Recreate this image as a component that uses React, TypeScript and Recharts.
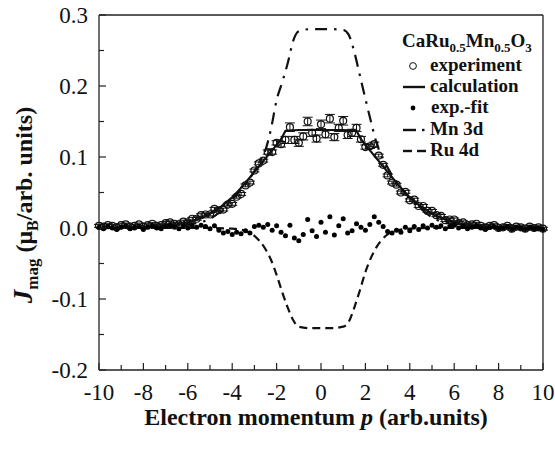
import React from 'react'
import { ComposedChart, Line, Scatter, XAxis, YAxis, ReferenceLine, ErrorBar } from 'recharts'

const FONT = 'Liberation Serif, Times New Roman, DejaVu Serif, serif'

// measured points, momentum grid step 0.2 from -10 to 10
const EXP_P = Array.from({ length: 101 }, (_, i) => Math.round((-10 + i * 0.2) * 10) / 10)

const EXP_V = [
  0.003, 0.002, 0.004, 0.003, 0.001, 0.004, 0.005, 0.002, 0.003, 0.005,
  0.002, 0.004, 0.006, 0.003, 0.004, 0.007, 0.008, 0.006, 0.005, 0.009,
  0.008, 0.013, 0.013, 0.018, 0.019, 0.019, 0.027, 0.025, 0.026, 0.033,
  0.034, 0.044, 0.048, 0.06, 0.064, 0.081, 0.091, 0.095, 0.107, 0.107,
  0.12, 0.118, 0.124, 0.142, 0.124, 0.12, 0.129, 0.15, 0.134, 0.126,
  0.146, 0.132, 0.154, 0.128, 0.141, 0.151, 0.131, 0.134, 0.141, 0.125,
  0.114, 0.115, 0.118, 0.102, 0.089, 0.074, 0.064, 0.061, 0.05, 0.051,
  0.039, 0.04, 0.031, 0.031, 0.024, 0.024, 0.018, 0.017, 0.011, 0.012,
  0.012, 0.007, 0.008, 0.004, 0.005, 0.006, 0.003, 0.001, 0.003, 0.004,
  0.0, 0.001, 0.003, -0.001, 0.002, 0.001, -0.001, 0.002, 0.0, 0.001,
  -0.001,
]

const EXP_ERR = [
  0.002, 0.002, 0.002, 0.002, 0.002, 0.002, 0.002, 0.002, 0.002, 0.002,
  0.002, 0.002, 0.002, 0.002, 0.002, 0.002, 0.002, 0.002, 0.002, 0.002,
  0.002, 0.002, 0.002, 0.002, 0.002, 0.002, 0.002, 0.002, 0.002, 0.002,
  0.002, 0.002, 0.002, 0.002, 0.002, 0.002, 0.002, 0.002, 0.003, 0.003,
  0.003, 0.004, 0.005, 0.006, 0.005, 0.005, 0.005, 0.006, 0.005, 0.005,
  0.006, 0.005, 0.006, 0.005, 0.005, 0.006, 0.005, 0.005, 0.005, 0.004,
  0.003, 0.003, 0.003, 0.002, 0.002, 0.002, 0.002, 0.002, 0.002, 0.002,
  0.002, 0.002, 0.002, 0.002, 0.002, 0.002, 0.002, 0.002, 0.002, 0.002,
  0.002, 0.002, 0.002, 0.002, 0.002, 0.002, 0.002, 0.002, 0.002, 0.002,
  0.002, 0.002, 0.002, 0.002, 0.002, 0.002, 0.002, 0.002, 0.002, 0.002,
  0.002,
]

// experiment minus fit
const FIT_V = [
  0.001, -0.001, 0.002, 0.0, -0.002, 0.001, 0.003, -0.001, 0.0, 0.002,
  -0.002, 0.001, 0.003, 0.0, -0.001, 0.002, 0.004, 0.001, -0.001, 0.002,
  0.0, 0.003, 0.001, 0.004, 0.002, -0.001, 0.003, -0.003, -0.007, -0.005,
  -0.009, -0.006, -0.008, -0.004, -0.007, 0.002, 0.004, 0.001, 0.005, -0.003,
  0.003, -0.006, -0.011, 0.004, -0.014, -0.018, -0.009, 0.012, -0.004, -0.012,
  0.008, -0.006, 0.016, -0.01, 0.003, 0.013, -0.007, -0.004, 0.006, 0.001,
  -0.003, 0.005, 0.016, 0.008, 0.002, -0.005, -0.007, -0.003, -0.006, 0.001,
  -0.004, 0.002, -0.002, 0.003, 0.0, 0.004, 0.001, 0.003, -0.001, 0.002,
  0.004, 0.0, 0.002, -0.001, 0.001, 0.003, 0.0, -0.002, 0.001, 0.002,
  -0.001, 0.0, 0.002, -0.002, 0.001, 0.0, -0.002, 0.001, -0.001, 0.0,
  -0.002,
]

const CALC_P = [-10, -8, -7, -6.5, -6, -5.5, -5, -4.5, -4, -3.5, -3, -2.5, -2, -1.8, -1.6, -1, 0, 1, 1.6, 1.8, 2, 2.5, 3, 3.5, 4, 4.5, 5, 5.5, 6, 6.5, 7, 8, 10]
const CALC_V = [0, 0.001, 0.003, 0.005, 0.008, 0.013, 0.02, 0.03, 0.043, 0.06, 0.079, 0.098, 0.117, 0.125, 0.137, 0.138, 0.138, 0.138, 0.137, 0.125, 0.117, 0.098, 0.079, 0.06, 0.043, 0.03, 0.02, 0.013, 0.008, 0.005, 0.003, 0.001, 0]

const MN_P = [-10, -8, -6, -5, -4.5, -4, -3.5, -3, -2.75, -2.5, -2.25, -2, -1.75, -1.5, -1.25, -1, -0.5, 0, 0.5, 1, 1.25, 1.5, 1.75, 2, 2.25, 2.5, 2.75, 3, 3.5, 4, 4.5, 5, 6, 8, 10]
const MN_V = [0, 0.001, 0.005, 0.013, 0.024, 0.04, 0.058, 0.08, 0.094, 0.11, 0.14, 0.18, 0.205, 0.232, 0.264, 0.277, 0.28, 0.28, 0.28, 0.279, 0.272, 0.248, 0.215, 0.182, 0.15, 0.12, 0.1, 0.085, 0.06, 0.042, 0.027, 0.015, 0.005, 0.001, 0]

const RU_P = [-10, -5, -4, -3.5, -3, -2.5, -2.25, -2, -1.75, -1.5, -1.25, -1, -0.5, 0, 0.5, 1, 1.25, 1.5, 1.75, 2, 2.25, 2.5, 3, 3.5, 4, 5, 10]
const RU_V = [0, 0, -0.001, -0.003, -0.011, -0.03, -0.045, -0.066, -0.09, -0.112, -0.13, -0.139, -0.141, -0.141, -0.141, -0.139, -0.132, -0.112, -0.088, -0.062, -0.042, -0.027, -0.009, -0.003, -0.001, 0, 0]

const X_TICKS = [-10, -9, -8, -7, -6, -5, -4, -3, -2, -1, 0, 1, 2, 3, 4, 5, 6, 7, 8, 9, 10]
const Y_TICKS = [-0.2, -0.15, -0.1, -0.05, 0, 0.05, 0.1, 0.15, 0.2, 0.25, 0.3]

const expData = EXP_P.map((p, i) => ({ p, v: EXP_V[i], err: EXP_ERR[i] }))
const fitData = EXP_P.map((p, i) => ({ p, v: FIT_V[i] }))
const calcData = CALC_P.map((p, i) => ({ p, v: CALC_V[i] }))
const mnData = MN_P.map((p, i) => ({ p, v: MN_V[i] }))
const ruData = RU_P.map((p, i) => ({ p, v: RU_V[i] }))

const AXIS = '#222'
const serif = { fontFamily: FONT }

function XTick({ x, y, payload }: any) {
  const v = payload.value
  const major = v % 2 === 0
  return (
    <g>
      <line x1={x} x2={x} y1={y} y2={y - (major ? 7 : 5)} stroke={AXIS} strokeWidth={1.2} />
      {major && (
        <text x={x} y={y + 30} textAnchor="middle" fontSize={23} style={serif} fill="#111">
          {v}
        </text>
      )}
    </g>
  )
}

function YTick({ x, y, payload }: any) {
  const v = payload.value
  const major = Math.abs(v * 10 - Math.round(v * 10)) < 1e-6
  return (
    <g>
      <line x1={x} x2={x + (major ? 7 : 5)} y1={y} y2={y} stroke={AXIS} strokeWidth={1.2} />
      {major && (
        <text x={x - 11} y={y} dy="0.35em" textAnchor="end" fontSize={23} style={serif} fill="#111">
          {v.toFixed(1)}
        </text>
      )}
    </g>
  )
}

const openCircle = (props: any) => (
  <circle cx={props.cx} cy={props.cy} r={3.5} fill="none" stroke="#111" strokeWidth={1.2} />
)
const filledDot = (props: any) => <circle cx={props.cx} cy={props.cy} r={2.5} fill="#000" />

function Overlay() {
  const bold = { style: { fontFamily: FONT, fontWeight: 'bold' as const }, fill: '#111' }
  return (
    <svg width={555} height={449} style={{ position: 'absolute', left: 0, top: 0, pointerEvents: 'none' }}>
      {/* y axis title */}
      <text transform="translate(32,205) rotate(-90)" textAnchor="middle" fontSize={24} {...bold}>
        <tspan fontStyle="italic" fontSize={27}>J</tspan>
        <tspan fontSize={17} dy={6}>mag</tspan>
        <tspan dy={-6}>{'  (μ'}</tspan>
        <tspan fontSize={16} dy={6}>B</tspan>
        <tspan dy={-6}>/arb. units)</tspan>
      </text>
      {/* x axis title */}
      <text x={316} y={425} textAnchor="middle" fontSize={24} {...bold}>
        Electron momentum <tspan fontStyle="italic">p</tspan> (arb.units)
      </text>
      {/* legend */}
      <text x={402} y={47} fontSize={19} {...bold}>
        CaRu<tspan fontSize={13} dy={5}>0.5</tspan>
        <tspan dy={-5}>Mn</tspan>
        <tspan fontSize={13} dy={5}>0.5</tspan>
        <tspan dy={-5}>O</tspan>
        <tspan fontSize={13} dy={5}>3</tspan>
      </text>
      <circle cx={413} cy={66} r={3.4} fill="none" stroke="#111" strokeWidth={1} />
      <text x={430} y={71} fontSize={19} {...bold}>experiment</text>
      <line x1={403} x2={425} y1={87} y2={87} stroke="#111" strokeWidth={2.4} />
      <text x={430} y={92} fontSize={19} {...bold}>calculation</text>
      <circle cx={413} cy={108} r={2.4} fill="#000" />
      <text x={431} y={113} fontSize={19} {...bold}>exp.-fit</text>
      <line x1={403} x2={416} y1={130} y2={130} stroke="#111" strokeWidth={2.4} />
      <line x1={422} x2={424.5} y1={130} y2={130} stroke="#111" strokeWidth={2.4} />
      <text x={430} y={135} fontSize={19} {...bold}>Mn 3d</text>
      <line x1={403} x2={412} y1={151} y2={151} stroke="#111" strokeWidth={2.4} />
      <line x1={417} x2={426} y1={151} y2={151} stroke="#111" strokeWidth={2.4} />
      <text x={430} y={156} fontSize={19} {...bold}>Ru 4d</text>
    </svg>
  )
}

export default function App() {
  return (
    <div style={{ position: 'absolute', left: 0, top: 0, width: 555, height: 449, background: '#fff' }}>
      <ComposedChart width={555} height={449} margin={{ top: 15, right: 12, bottom: 0, left: 0 }}>
        <XAxis
          type="number"
          dataKey="p"
          domain={[-10, 10]}
          ticks={X_TICKS}
          interval={0}
          height={79}
          tickSize={0}
          tickMargin={0}
          tickLine={false}
          axisLine={{ stroke: AXIS, strokeWidth: 1.3 }}
          tick={(props: any) => <XTick {...props} />}
        />
        <YAxis
          type="number"
          domain={[-0.2, 0.3]}
          ticks={Y_TICKS}
          interval={0}
          width={99}
          tickSize={0}
          tickMargin={0}
          tickLine={false}
          axisLine={{ stroke: AXIS, strokeWidth: 1.3 }}
          tick={(props: any) => <YTick {...props} />}
        />
        <ReferenceLine y={0.3} stroke={AXIS} strokeWidth={1.3} />
        <ReferenceLine x={10} stroke={AXIS} strokeWidth={1.3} />
        <Line data={mnData} dataKey="v" type="monotone" stroke="#111" strokeWidth={2.2} strokeDasharray="12 7 2.5 7" dot={false} isAnimationActive={false} />
        <Line data={ruData} dataKey="v" type="monotone" stroke="#111" strokeWidth={2.2} strokeDasharray="8 5" dot={false} isAnimationActive={false} />
        <Scatter data={expData} dataKey="v" shape={openCircle} isAnimationActive={false}>
          <ErrorBar dataKey="err" direction="y" width={5} stroke="#111" strokeWidth={1} />
        </Scatter>
        <Line data={calcData} dataKey="v" type="linear" stroke="#111" strokeWidth={2.2} dot={false} isAnimationActive={false} />
        <Scatter data={fitData} dataKey="v" shape={filledDot} isAnimationActive={false} />
      </ComposedChart>
      <Overlay />
    </div>
  )
}
